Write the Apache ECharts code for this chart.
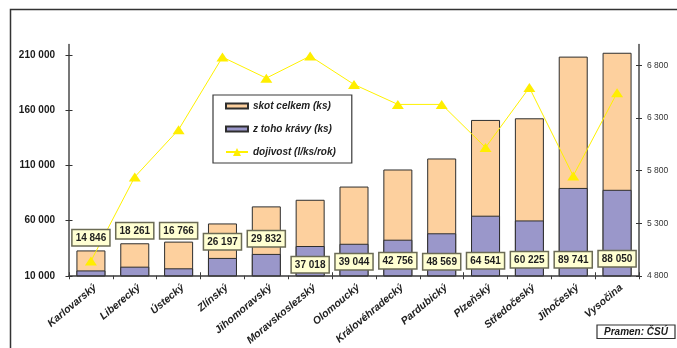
<!DOCTYPE html>
<html>
<head>
<meta charset="utf-8">
<script src="https://cdn.jsdelivr.net/npm/echarts@6/dist/echarts.min.js"></script>
<style>
  html, body { margin: 0; padding: 0; background: #ffffff; }
  #chart { width: 677px; height: 348px; }
</style>
</head>
<body>
<div id="chart"></div>
<script>
// Skot v krajích ČR: počet kusů, z toho krávy, a dojivost
const regions = ['Karlovarský', 'Liberecký', 'Ústecký', 'Zlínský', 'Jihomoravský', 'Moravskoslezský',
  'Olomoucký', 'Královéhradecký', 'Pardubický', 'Plzeňský', 'Středočeský', 'Jihočeský', 'Vysočina'];
const cattleTotal = [33000, 39500, 41000, 57500, 73000, 79000, 91000, 106500, 116500, 151500, 153000, 209000, 212500];
const cows = [14846, 18261, 16766, 26197, 29832, 37018, 39044, 42756, 48569, 64541, 60225, 89741, 88050];
const milkYield = [4940, 5740, 6190, 6880, 6680, 6890, 6620, 6430, 6430, 6020, 6590, 5750, 6540];
const leftTicks = [10000, 60000, 110000, 160000, 210000];
const rightTicks = [4800, 5300, 5800, 6300, 6800];

// how far each cow-count callout sits above the category axis (px)
const calloutLift = [31, 38, 38, 27, 30, 4, 7, 8, 7, 8, 9, 9, 10];

const FONT = '"Liberation Sans", Arial, sans-serif';
const fmt = v => String(v).replace(/\B(?=(\d{3})+(?!\d))/g, ' ');

const chart = echarts.init(document.getElementById('chart'), null, { renderer: 'canvas' });

const leftRange = { min: leftTicks[0], max: 220000, interval: leftTicks[1] - leftTicks[0] };
const rightRange = { min: rightTicks[0], max: 7000, interval: rightTicks[1] - rightTicks[0] };

const option = {
  backgroundColor: '#ffffff',
  animation: false,
  grid: { left: 69, right: 38, top: 44.5, bottom: 72, containLabel: false },
  legend: {
    orient: 'vertical',
    left: 213,
    top: 95,
    padding: [6, 16, 6, 12],
    itemGap: 13,
    itemWidth: 22,
    itemHeight: 10,
    borderColor: '#3a3a3a',
    borderWidth: 1.2,
    backgroundColor: '#ffffff',
    textStyle: { fontFamily: FONT, fontSize: 10, fontWeight: 'bold', fontStyle: 'italic', color: '#222' },
    data: [
      { name: 'skot celkem (ks)', icon: 'path://M0,0H22V5H0Z' },
      { name: 'z toho krávy (ks)', icon: 'path://M0,0H22V5H0Z' },
      { name: 'dojivost (l/ks/rok)' }
    ]
  },
  xAxis: [
    {
      type: 'category',
      data: regions,
      position: 'bottom',
      axisLine: { lineStyle: { color: '#3a3a3a', width: 1.5 } },
      axisTick: { show: true, length: 3.5, lineStyle: { color: '#3a3a3a', width: 1 } },
      axisLabel: {
        interval: 0, rotate: 40, margin: 7,
        align: 'right', verticalAlign: 'top', padding: [0, -1, 0, 0],
        fontFamily: FONT, fontSize: 10.5, fontWeight: 'bold', fontStyle: 'italic', color: '#222'
      },
      splitLine: { show: false }
    },
    {
      // inner half of the category ticks
      type: 'category',
      data: regions,
      position: 'bottom',
      axisLine: { show: false },
      axisTick: { show: true, inside: true, length: 3.5, lineStyle: { color: '#3a3a3a', width: 1 } },
      axisLabel: { show: false },
      splitLine: { show: false }
    }
  ],
  yAxis: [
    {
      type: 'value', position: 'left', ...leftRange,
      axisLine: { show: true, lineStyle: { color: '#4a4a4a', width: 1.5 } },
      axisTick: { show: true, length: 3.5, customValues: leftTicks, lineStyle: { color: '#333', width: 1 } },
      axisLabel: {
        customValues: leftTicks, margin: 14, formatter: v => fmt(v),
        fontFamily: FONT, fontSize: 10, fontWeight: 'bold', color: '#1a1a1a'
      },
      splitLine: { show: false }
    },
    {
      type: 'value', position: 'right', ...rightRange,
      axisLine: { show: true, lineStyle: { color: '#4a4a4a', width: 1.5 } },
      axisTick: { show: true, length: 3, customValues: rightTicks, lineStyle: { color: '#333', width: 1 } },
      axisLabel: {
        customValues: rightTicks, margin: 8, formatter: v => fmt(v),
        fontFamily: FONT, fontSize: 8.5, color: '#333'
      },
      splitLine: { show: false }
    },
    {
      type: 'value', position: 'left', ...leftRange,
      axisLine: { show: false },
      axisTick: { show: true, inside: true, length: 3.5, customValues: leftTicks, lineStyle: { color: '#333', width: 1 } },
      axisLabel: { show: false },
      splitLine: { show: false }
    },
    {
      type: 'value', position: 'right', ...rightRange,
      axisLine: { show: false },
      axisTick: { show: true, inside: true, length: 3, customValues: rightTicks, lineStyle: { color: '#333', width: 1 } },
      axisLabel: { show: false },
      splitLine: { show: false }
    }
  ],
  series: [
    {
      name: 'skot celkem (ks)',
      type: 'bar',
      data: cattleTotal,
      barWidth: 29,
      barGap: '-100%',
      z: 2,
      itemStyle: { color: '#FDD09E', borderColor: '#2e2e2e', borderWidth: 1 }
    },
    {
      name: 'dojivost (l/ks/rok)',
      type: 'line',
      yAxisIndex: 1,
      data: milkYield,
      z: 3,
      symbol: 'triangle',
      symbolSize: [12, 9],
      lineStyle: { color: '#FFF200', width: 1 },
      itemStyle: { color: '#FFEE00', borderWidth: 0 }
    },
    {
      name: 'z toho krávy (ks)',
      type: 'bar',
      data: cows.map((v, i) => ({ value: v, label: { offset: [0, -calloutLift[i]] } })),
      barWidth: 29,
      barGap: '-100%',
      z: 4,
      itemStyle: { color: '#9A97CA', borderColor: '#2e2e2e', borderWidth: 1 },
      label: {
        show: true,
        position: 'insideBottom',
        distance: 0,
        formatter: p => fmt(p.value),
        fontFamily: FONT, fontSize: 10, fontWeight: 'bold', color: '#1e1e1e',
        backgroundColor: '#FFFFD2',
        borderColor: '#6b6b55',
        borderWidth: 1.5,
        padding: [3, 3, 2, 3]
      }
    }
  ],
  graphic: [
    {
      type: 'rect', silent: true, z: 0,
      shape: { x: 10.5, y: 9.5, width: 720, height: 400 },
      style: { fill: 'none', stroke: '#333', lineWidth: 1.5 }
    },
    {
      type: 'rect', silent: true, z: 10,
      shape: { x: 597, y: 325, width: 78, height: 13.5 },
      style: { fill: '#ffffff', stroke: '#333', lineWidth: 1.2 }
    },
    {
      type: 'text', silent: true, z: 11,
      x: 636, y: 332,
      style: {
        text: 'Pramen: ČSÚ', fill: '#1a1a1a',
        font: 'italic bold 10px "Liberation Sans", Arial, sans-serif',
        align: 'center', verticalAlign: 'middle'
      }
    }
  ]
};

chart.setOption(option);
</script>
</body>
</html>
